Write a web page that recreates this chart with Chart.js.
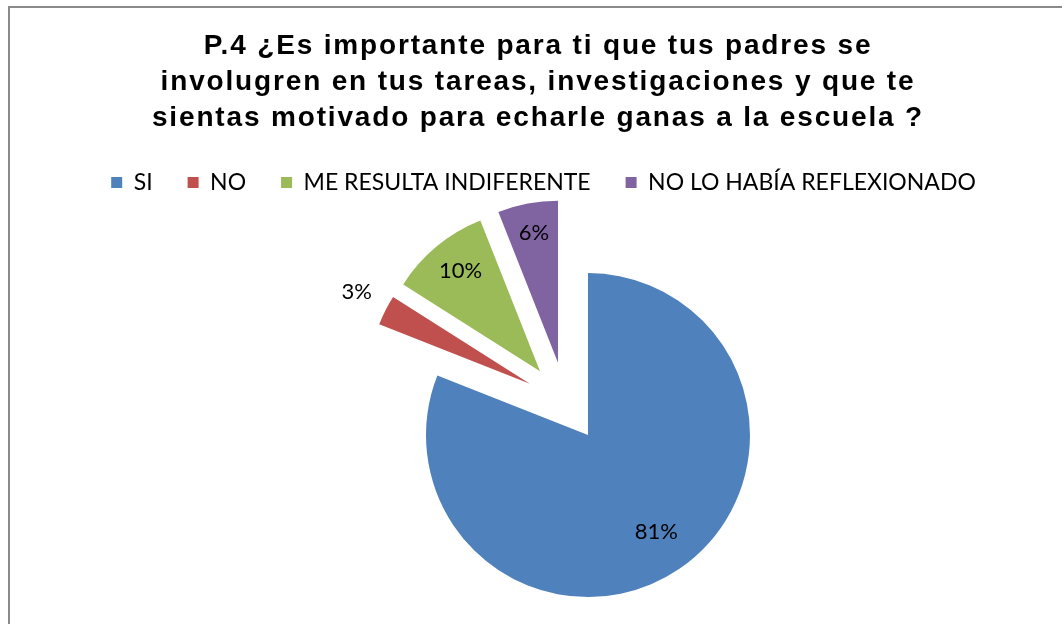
<!DOCTYPE html>
<html>
<head>
<meta charset="utf-8">
<script src="https://cdn.jsdelivr.net/npm/chart.js@4.4.1/dist/chart.umd.min.js"></script>
<style>
  html,body{margin:0;padding:0;background:#fff;overflow:hidden}
  #wrap{position:relative;width:1062px;height:624px}
  #frame{position:absolute;left:8px;top:6px;width:1100px;height:700px;
         border-left:2px solid #8a8a8a;border-top:2px solid #8a8a8a}
  canvas{position:absolute;left:0;top:0}
  #title{position:absolute;left:0;top:27px;width:1076px;text-align:center;
         font:bold 28px/36px "Liberation Sans", Arial, sans-serif;
         letter-spacing:1.84px;color:#000}
</style>
</head>
<body>
<div id="wrap">
  <div id="frame"></div>
  <canvas id="pie" width="1062" height="624"></canvas>
  <div id="title"></div>
</div>
<script>
/* ---------- data ---------- */
const TITLE   = ['P.4 ¿Es importante para ti que tus padres se',
                 'involugren en tus tareas, investigaciones y que te',
                 'sientas motivado para echarle ganas a la escuela ?'];
const LABELS  = ['SI','NO','ME RESULTA INDIFERENTE','NO LO HABÍA REFLEXIONADO'];
const VALUES  = [81, 3, 10, 6];                 // percent
const COLORS  = ['#4F81BD','#C0504D','#9BBB59','#8064A2'];

const EXPLODE = 40;     // px every slice is pushed out (excel style)
const RADIUS  = 162;
const SHIFT_X = 22;     // pie sits a bit right of the title centre
const LABEL_K = [0.75, 1.2, 0.77, 0.79];   // label distance, x radius (3% sits outside)

// title is plain html text (needs the wide excel letter spacing)
document.getElementById('title').innerHTML = TITLE.join('<br>');

/* ---------- excel-like explode: plain translate, no resize ---------- */
const explodePlugin = {
  id:'explode',
  afterLayout(chart){
    chart.chartArea.left  += SHIFT_X;
    chart.chartArea.right += SHIFT_X;
  },
  beforeDatasetDraw(chart, args){
    const ctx = chart.ctx;
    args.meta.data.forEach(arc=>{
      const mid = (arc.startAngle + arc.endAngle)/2;
      ctx.save();
      ctx.translate(Math.cos(mid)*EXPLODE, Math.sin(mid)*EXPLODE);
      arc.draw(ctx);
      ctx.restore();
    });
    return false;     // skip default drawing
  },
  afterDatasetsDraw(chart){
    const ctx  = chart.ctx;
    const meta = chart.getDatasetMeta(0);
    ctx.save();
    ctx.font = '22px Lato';
    ctx.fillStyle = '#000';
    ctx.textAlign = 'center';
    ctx.textBaseline = 'alphabetic';
    meta.data.forEach((arc,i)=>{
      const mid = (arc.startAngle + arc.endAngle)/2;
      const d   = EXPLODE + LABEL_K[i]*arc.outerRadius;
      ctx.fillText(VALUES[i]+'%', arc.x + Math.cos(mid)*d, arc.y + Math.sin(mid)*d + 3);
    });
    ctx.restore();
  }
};

new Chart(document.getElementById('pie'),{
  type:'pie',
  data:{
    labels:LABELS,
    datasets:[{
      data:VALUES,
      backgroundColor:COLORS,
      borderWidth:0
    }]
  },
  options:{
    responsive:false,
    animation:false,
    radius:RADIUS,
    layout:{padding:{left:25,right:0,top:136,bottom:24}},
    plugins:{
      title:{display:false},
      legend:{
        position:'top',
        labels:{
          color:'#000',
          font:{family:'Lato',size:23},
          boxWidth:11, boxHeight:11,
          padding:35
        }
      },
      tooltip:{enabled:false}
    }
  },
  plugins:[explodePlugin]
});
</script>
</body>
</html>
